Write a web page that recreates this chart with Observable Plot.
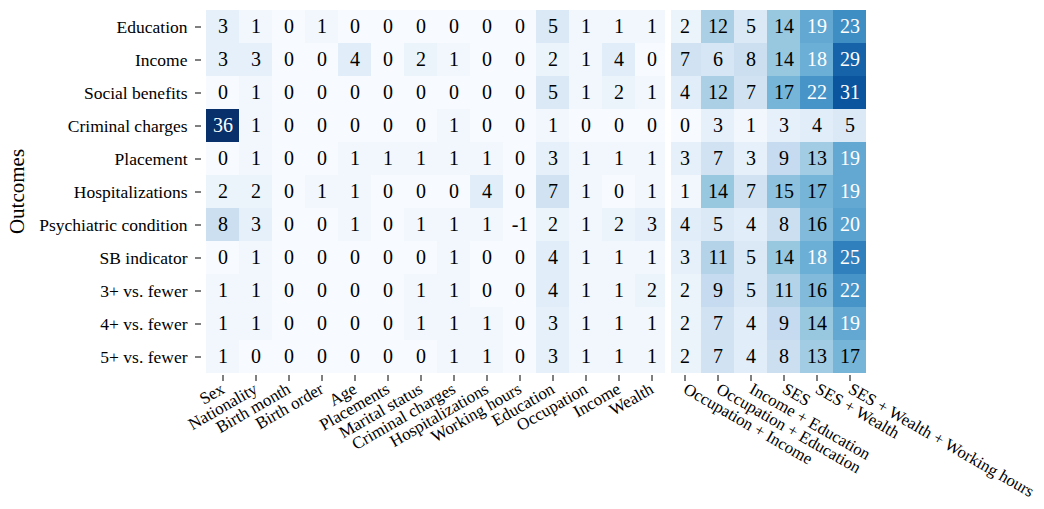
<!DOCTYPE html>
<html>
<head>
<meta charset="utf-8">
<script src="https://cdn.jsdelivr.net/npm/d3@7"></script>
<script src="https://cdn.jsdelivr.net/npm/@observablehq/plot@0.6"></script>
<style>
  html, body { margin: 0; padding: 0; background: #ffffff; }
</style>
</head>
<body>
<div id="chart"></div>
<script>
// ---- Data ----
const outcomes = [
  "Education", "Income", "Social benefits", "Criminal charges", "Placement",
  "Hospitalizations", "Psychiatric condition", "SB indicator",
  "3+ vs. fewer", "4+ vs. fewer", "5+ vs. fewer"
];

const leftPredictors = [
  "Sex", "Nationality", "Birth month", "Birth order", "Age", "Placements",
  "Marital status", "Criminal charges", "Hospitalizations", "Working hours",
  "Education", "Occupation", "Income", "Wealth"
];

const rightPredictors = [
  "Occupation + Income", "Occupation + Education", "Income + Education",
  "SES", "SES + Wealth", "SES + Wealth + Working hours"
];

// one row per outcome: 14 single predictors, then 6 combined predictors
const valuesEducation        = [3, 1, 0, 1, 0, 0, 0, 0, 0, 0, 5, 1, 1, 1,   2, 12, 5, 14, 19, 23];
const valuesIncome           = [3, 3, 0, 0, 4, 0, 2, 1, 0, 0, 2, 1, 4, 0,   7, 6, 8, 14, 18, 29];
const valuesSocialBenefits   = [0, 1, 0, 0, 0, 0, 0, 0, 0, 0, 5, 1, 2, 1,   4, 12, 7, 17, 22, 31];
const valuesCriminalCharges  = [36, 1, 0, 0, 0, 0, 0, 1, 0, 0, 1, 0, 0, 0,  0, 3, 1, 3, 4, 5];
const valuesPlacement        = [0, 1, 0, 0, 1, 1, 1, 1, 1, 0, 3, 1, 1, 1,   3, 7, 3, 9, 13, 19];
const valuesHospitalizations = [2, 2, 0, 1, 1, 0, 0, 0, 4, 0, 7, 1, 0, 1,   1, 14, 7, 15, 17, 19];
const valuesPsychiatric      = [8, 3, 0, 0, 1, 0, 1, 1, 1, -1, 2, 1, 2, 3,  4, 5, 4, 8, 16, 20];
const valuesSBIndicator      = [0, 1, 0, 0, 0, 0, 0, 1, 0, 0, 4, 1, 1, 1,   3, 11, 5, 14, 18, 25];
const values3Plus            = [1, 1, 0, 0, 0, 0, 1, 1, 0, 0, 4, 1, 1, 2,   2, 9, 5, 11, 16, 22];
const values4Plus            = [1, 1, 0, 0, 0, 0, 1, 1, 1, 0, 3, 1, 1, 1,   2, 7, 4, 9, 14, 19];
const values5Plus            = [1, 0, 0, 0, 0, 0, 0, 1, 1, 0, 3, 1, 1, 1,   2, 7, 4, 8, 13, 17];

const valueRows = [
  valuesEducation, valuesIncome, valuesSocialBenefits, valuesCriminalCharges,
  valuesPlacement, valuesHospitalizations, valuesPsychiatric, valuesSBIndicator,
  values3Plus, values4Plus, values5Plus
];

// matplotlib "Blues" anchor colours
const blues = ["#f7fbff", "#deebf7", "#c6dbef", "#9ecae1", "#6baed6",
               "#4292c6", "#2171b5", "#08519c", "#08306b"];

// ---- Build table ----
const predictors = leftPredictors.concat(rightPredictors);
const data = outcomes.flatMap((o, i) =>
  predictors.map((p, j) => ({outcome: o, predictor: p, value: valueRows[i][j]}))
);

const vmax = d3.max(valueRows.flat());
const vmin = 0;
const colorDomain = blues.map((_, k) => vmin + (vmax - vmin) * k / (blues.length - 1));
const colorFn = d3.scaleLinear(colorDomain, blues).interpolate(d3.interpolateRgb).clamp(true);

function luminance(c) {
  const {r, g, b} = d3.rgb(c);
  const f = v => { v /= 255; return v <= 0.03928 ? v / 12.92 : Math.pow((v + 0.055) / 1.055, 2.4); };
  return 0.2126 * f(r) + 0.7152 * f(g) + 0.0722 * f(b);
}
const textColor = d => luminance(colorFn(d.value)) > 0.408 ? "#000000" : "#ffffff";

const lastLeft = leftPredictors[leftPredictors.length - 1];
const firstRight = rightPredictors[0];
const gap = 2.8;

const cellOpts = {x: "predictor", y: "outcome", fill: "value", inset: 0, shapeRendering: "crispEdges"};

const plot = Plot.plot({
  width: 1044,
  height: 509,
  marginLeft: 201,
  marginRight: 174,
  marginTop: 7,
  marginBottom: 134,
  style: {fontFamily: "'Liberation Serif', 'DejaVu Serif', serif", fontSize: "17px", background: "#ffffff", color: "#000000"},
  x: {type: "band", domain: predictors, padding: 0},
  y: {type: "band", domain: outcomes, padding: 0},
  color: {type: "linear", domain: colorDomain, range: blues, interpolate: "rgb", clamp: true},
  marks: [
    Plot.cell(data.filter(d => d.predictor !== lastLeft && d.predictor !== firstRight), cellOpts),
    Plot.cell(data.filter(d => d.predictor === lastLeft), {...cellOpts, insetRight: gap}),
    Plot.cell(data.filter(d => d.predictor === firstRight), {...cellOpts, insetLeft: gap}),
    Plot.text(data, {x: "predictor", y: "outcome", text: d => String(d.value), fill: textColor, fontSize: 20}),
    Plot.axisY({tickSize: 6, tickPadding: 8, fontSize: 17.5, label: null}),
    Plot.axisX({ticks: leftPredictors, tickRotate: -30, tickSize: 6, tickPadding: 6, fontSize: 17, label: null}),
    Plot.axisX({ticks: rightPredictors, tickRotate: 30, tickSize: 6, tickPadding: 6, fontSize: 16.8, label: null}),
    Plot.text(["Outcomes"], {frameAnchor: "left", textAnchor: "middle", rotate: -90, dx: -184, fontSize: 21, text: d => d})
  ]
});

document.getElementById("chart").appendChild(plot);
</script>
</body>
</html>
